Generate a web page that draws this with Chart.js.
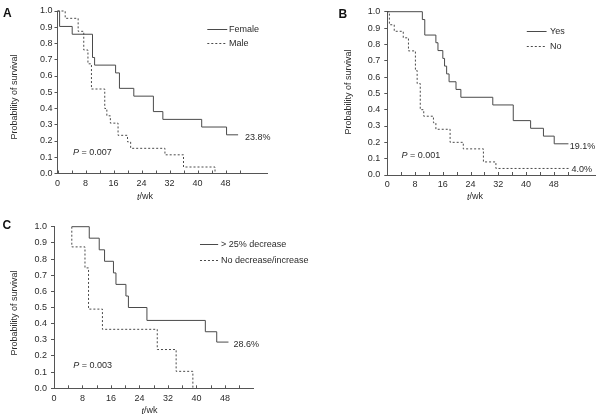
<!DOCTYPE html>
<html><head><meta charset="utf-8">
<script src="https://cdn.jsdelivr.net/npm/chart.js@4/dist/chart.umd.min.js"></script>
<style>
html,body{margin:0;padding:0;background:#fff;}
#wrap{position:relative;width:608px;height:419px;overflow:hidden;background:#fff;}
canvas{position:absolute;}
</style></head><body>
<div id="wrap">
<canvas id="cA" style="left:0;top:0"></canvas>
<canvas id="cB" style="left:300px;top:0"></canvas>
<canvas id="cC" style="left:0;top:205px"></canvas>
</div>
<script>
// ---- tick labels ----
const yTickValues = [0, 0.1, 0.2, 0.3, 0.4, 0.5, 0.6, 0.7, 0.8, 0.9, 1.0];
const xTickLabels = [0, 8, 16, 24, 32, 40, 48];
const xMinorTicks = [0, 4, 8, 12, 16, 20, 24, 28, 32, 36, 40, 44, 48, 52];

// ---- Panel A: sex ----
const femaleWeeks = [0, 0.6, 4.2, 10.0, 10.6, 16.6, 17.7, 21.8, 27.4, 30.1, 41.2, 48.3, 51.6];
const femaleSurv  = [1, 0.905, 0.857, 0.714, 0.667, 0.619, 0.524, 0.476, 0.381, 0.333, 0.286, 0.238, 0.238];
const maleWeeks   = [0, 2.2, 5.9, 7.5, 8.7, 9.7, 13.5, 14.1, 15.1, 17.3, 20.0, 20.9, 30.7, 36.0, 45.0];
const maleSurv    = [1, 0.955, 0.875, 0.76, 0.675, 0.52, 0.40, 0.355, 0.31, 0.235, 0.195, 0.155, 0.115, 0.04, 0];

// ---- Panel B: yes / no ----
const yesWeeks = [0, 10.1, 10.8, 14.0, 14.6, 16.0, 16.5, 17.1, 17.8, 19.8, 21.2, 30.4, 36.3, 41.3, 45.0, 48.1, 52.2];
const yesSurv  = [1, 0.952, 0.857, 0.81, 0.762, 0.714, 0.667, 0.619, 0.571, 0.524, 0.476, 0.429, 0.333, 0.286, 0.238, 0.191, 0.191];
const noWeeks  = [0, 0.6, 2.0, 4.6, 6.1, 8.1, 8.6, 9.5, 10.5, 13.3, 14.0, 18.1, 21.9, 27.7, 31.3, 52.6];
const noSurv   = [1, 0.92, 0.88, 0.84, 0.76, 0.64, 0.56, 0.40, 0.36, 0.32, 0.28, 0.20, 0.16, 0.08, 0.04, 0.04];

// ---- Panel C: change ----
const decWeeks = [5, 9.9, 12.7, 14.2, 16.7, 17.4, 20.2, 20.9, 26.1, 42.5, 45.7, 49.0];
const decSurv  = [1, 0.929, 0.857, 0.786, 0.714, 0.643, 0.571, 0.5, 0.42, 0.35, 0.286, 0.286];
const incWeeks = [5, 5, 8.7, 9.7, 13.6, 29.0, 34.3, 39.0];
const incSurv  = [1, 0.875, 0.745, 0.49, 0.365, 0.24, 0.105, 0];

const FONT = "'Liberation Sans', Arial, sans-serif";
const TXT = '#2b2b2b';
const AXIS = '#555555';
const LINE = '#4a4a4a';
Chart.defaults.font.family = FONT;
Chart.defaults.font.size = 9;
Chart.defaults.color = TXT;

function annotPlugin(o) {
  return {
    id: 'annot_' + o.id,
    afterDraw(chart) {
      const ctx = chart.ctx, xs = chart.scales.x, ys = chart.scales.y, ca = chart.chartArea;
      ctx.save();
      // inward minor x ticks
      ctx.strokeStyle = AXIS; ctx.lineWidth = 1; ctx.setLineDash([]);
      xMinorTicks.forEach(t => {
        if (t > o.xTickEnd) return;
        const px = Math.round(xs.getPixelForValue(t)) + 0.5;
        ctx.beginPath(); ctx.moveTo(px, ca.bottom); ctx.lineTo(px, ca.bottom - 3); ctx.stroke();
      });
      // legend
      o.legend.forEach(l => {
        const y = Math.round(ys.getPixelForValue(l.v)) + 0.5;
        ctx.strokeStyle = LINE; ctx.lineWidth = 1;
        ctx.setLineDash(l.dash ? [2, 2] : []);
        ctx.beginPath(); ctx.moveTo(xs.getPixelForValue(l.t0), y); ctx.lineTo(xs.getPixelForValue(l.t1), y); ctx.stroke();
        ctx.setLineDash([]);
        ctx.fillStyle = TXT; ctx.font = '9px ' + FONT; ctx.textBaseline = 'middle'; ctx.textAlign = 'left';
        ctx.fillText(l.text, xs.getPixelForValue(l.tt), y);
      });
      // end labels
      ctx.fillStyle = TXT; ctx.font = '9px ' + FONT; ctx.textBaseline = 'middle'; ctx.textAlign = 'left';
      o.labels.forEach(l => ctx.fillText(l.text, xs.getPixelForValue(l.t), ys.getPixelForValue(l.v)));
      // P value
      {
        const px = xs.getPixelForValue(o.p.t), py = ys.getPixelForValue(o.p.v);
        ctx.font = 'italic 9px ' + FONT;
        ctx.fillText('P', px, py);
        const w = ctx.measureText('P').width;
        ctx.font = '9px ' + FONT;
        ctx.fillText(' = ' + o.p.text, px + w, py);
      }
      // x title
      {
        ctx.font = 'italic 9px ' + FONT;
        const w1 = ctx.measureText('t').width;
        ctx.font = '9px ' + FONT;
        const w2 = ctx.measureText('/wk').width;
        const cx = xs.getPixelForValue(o.xTitle.t);
        const x0 = cx - (w1 + w2) / 2;
        ctx.font = 'italic 9px ' + FONT; ctx.fillText('t', x0, o.xTitle.y);
        ctx.font = '9px ' + FONT; ctx.fillText('/wk', x0 + w1, o.xTitle.y);
      }
      // y title
      ctx.save();
      ctx.translate(o.yTitle.x, o.yTitle.y);
      ctx.rotate(-Math.PI / 2);
      ctx.textAlign = 'center'; ctx.textBaseline = 'middle';
      ctx.font = '9px ' + FONT;
      ctx.fillText('Probability of survival', 0, 0);
      ctx.restore();
      // panel letter
      ctx.fillStyle = '#111'; ctx.font = 'bold 12px ' + FONT; ctx.textAlign = 'left'; ctx.textBaseline = 'middle';
      ctx.fillText(o.letter.text, o.letter.x, o.letter.y);
      ctx.restore();
    }
  };
}

function buildPanel(o) {
  const cv = document.getElementById(o.id);
  cv.width = o.W; cv.height = o.H;
  cv.style.width = o.W + 'px'; cv.style.height = o.H + 'px';
  new Chart(cv, {
    type: 'line',
    data: {
      datasets: o.series.map(s => ({
        data: s.t.map((t, i) => ({ x: t, y: s.v[i] })),
        borderColor: LINE, borderWidth: 1,
        borderDash: s.dash ? [2, 2] : [],
        stepped: 'before', pointRadius: 0, fill: false, tension: 0, clip: false
      }))
    },
    options: {
      responsive: false, animation: false, devicePixelRatio: 1, events: [],
      layout: { padding: { left: 0, top: o.area.top, right: o.W - o.area.right, bottom: 0 } },
      plugins: { legend: { display: false }, tooltip: { enabled: false } },
      scales: {
        x: {
          type: 'linear', min: 0, max: o.xmax,
          grid: { display: false, drawTicks: false, tickLength: 0 },
          border: { display: true, color: AXIS, width: 1 },
          ticks: { padding: o.xpad, color: TXT, font: { size: 9 }, autoSkip: false, maxRotation: 0,
                   callback: v => String(v) },
          afterBuildTicks: s => { s.ticks = xTickLabels.map(v => ({ value: v })); },
          afterFit: s => { s.height = o.H - o.area.bottom; s.paddingLeft = 0; s.paddingRight = 0; }
        },
        y: {
          type: 'linear', min: 0, max: 1,
          grid: { display: true, drawOnChartArea: false, drawTicks: true, tickLength: 3, color: AXIS },
          border: { display: true, color: AXIS, width: 1 },
          ticks: { padding: o.ypad, color: TXT, font: { size: 9 }, callback: v => Number(v).toFixed(1) },
          afterBuildTicks: s => { s.ticks = yTickValues.map(v => ({ value: v })); },
          afterFit: s => { s.width = o.area.left; s.paddingTop = 0; s.paddingBottom = 0; }
        }
      }
    },
    plugins: [annotPlugin(o)]
  });
}

buildPanel({
  id: 'cA', W: 300, H: 205, xmax: 60, xTickEnd: 52,
  area: { left: 57.5, top: 11, right: 267.5, bottom: 173.5 },
  xpad: 5, ypad: 2,
  series: [ { t: femaleWeeks, v: femaleSurv, dash: false }, { t: maleWeeks, v: maleSurv, dash: true } ],
  legend: [
    { t0: 42.8, t1: 48.5, tt: 49.0, v: 0.889, text: 'Female', dash: false },
    { t0: 42.8, t1: 48.5, tt: 49.0, v: 0.80, text: 'Male', dash: true }
  ],
  labels: [ { t: 53.6, v: 0.222, text: '23.8%' } ],
  p: { t: 4.4, v: 0.132, text: '0.007' },
  xTitle: { t: 25, y: 197 },
  yTitle: { x: 15, y: 97 },
  letter: { text: 'A', x: 3, y: 14 }
});

buildPanel({
  id: 'cB', W: 308, H: 205, xmax: 60, xTickEnd: 52,
  area: { left: 87.3, top: 11.7, right: 295.5, bottom: 175 },
  xpad: 4, ypad: 4,
  series: [ { t: yesWeeks, v: yesSurv, dash: false }, { t: noWeeks, v: noSurv, dash: true } ],
  legend: [
    { t0: 40.2, t1: 45.9, tt: 46.9, v: 0.884, text: 'Yes', dash: false },
    { t0: 40.2, t1: 45.9, tt: 46.9, v: 0.79, text: 'No', dash: true }
  ],
  labels: [ { t: 52.6, v: 0.173, text: '19.1%' }, { t: 53.1, v: 0.031, text: '4.0%' } ],
  p: { t: 4.1, v: 0.122, text: '0.001' },
  xTitle: { t: 25.3, y: 197 },
  yTitle: { x: 49, y: 92 },
  letter: { text: 'B', x: 38.5, y: 14.5 }
});

buildPanel({
  id: 'cC', W: 330, H: 214, xmax: 56, xTickEnd: 52,
  area: { left: 54, top: 21.7, right: 253.4, bottom: 183.3 },
  xpad: 5, ypad: 4,
  series: [ { t: decWeeks, v: decSurv, dash: false }, { t: incWeeks, v: incSurv, dash: true } ],
  legend: [
    { t0: 41, t1: 46.1, tt: 46.9, v: 0.893, text: '> 25% decrease', dash: false },
    { t0: 41, t1: 46.1, tt: 46.9, v: 0.794, text: 'No decrease/increase', dash: true }
  ],
  labels: [ { t: 50.4, v: 0.272, text: '28.6%' } ],
  p: { t: 5.4, v: 0.138, text: '0.003' },
  xTitle: { t: 26.8, y: 206 },
  yTitle: { x: 15, y: 108 },
  letter: { text: 'C', x: 2.5, y: 21 }
});
</script>
</body></html>
